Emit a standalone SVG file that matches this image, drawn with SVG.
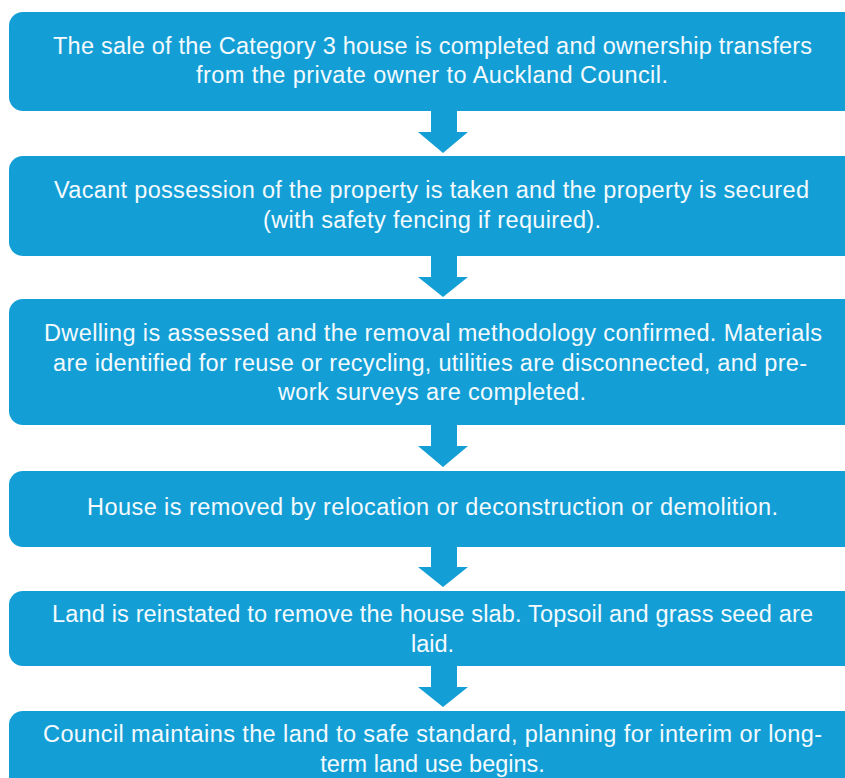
<svg xmlns="http://www.w3.org/2000/svg" width="845" height="778" viewBox="0 0 845 778">
<style>
.box{fill:#139FD6}
.t{font-family:"Liberation Sans",Arial,sans-serif;font-size:23.5px;fill:#F4FAFD;text-anchor:middle}
.arr{fill:#139FD6}
</style>
<rect width="845" height="778" fill="#ffffff"/>
<g id="connectors">
<polygon class="arr" points="431,110 457,110 457,132 468,132 443,153 418,132 431,132"/>
<polygon class="arr" points="431,255 457,255 457,277 468,277 443,297 418,277 431,277"/>
<polygon class="arr" points="431,424 457,424 457,446 468,446 443,467 418,446 431,446"/>
<polygon class="arr" points="431,546 457,546 457,567 468,567 443,587 418,567 431,567"/>
<polygon class="arr" points="431,665 457,665 457,687 468,687 443,707 418,687 431,687"/>
</g>
<g id="n1">
<rect class="box" x="9" y="12" width="850" height="99" rx="14"/>
<text class="t" x="432.5" y="54" textLength="759" lengthAdjust="spacing">The sale of the Category 3 house is completed and ownership transfers</text>
<text class="t" x="432" y="83" textLength="472" lengthAdjust="spacing">from the private owner to Auckland Council.</text>
</g>
<g id="n2">
<rect class="box" x="9" y="156" width="850" height="100" rx="14"/>
<text class="t" x="431.5" y="198" textLength="755" lengthAdjust="spacing">Vacant possession of the property is taken and the property is secured</text>
<text class="t" x="432" y="228" textLength="338" lengthAdjust="spacing">(with safety fencing if required).</text>
</g>
<g id="n3">
<rect class="box" x="9" y="299" width="850" height="126" rx="14"/>
<text class="t" x="433" y="341" textLength="778" lengthAdjust="spacing">Dwelling is assessed and the removal methodology confirmed. Materials</text>
<text class="t" x="430" y="371" textLength="754" lengthAdjust="spacing">are identified for reuse or recycling, utilities are disconnected, and pre-</text>
<text class="t" x="432" y="400" textLength="308" lengthAdjust="spacing">work surveys are completed.</text>
</g>
<g id="n4">
<rect class="box" x="9" y="471" width="850" height="76" rx="14"/>
<text class="t" x="432.5" y="515" textLength="691" lengthAdjust="spacing">House is removed by relocation or deconstruction or demolition.</text>
</g>
<g id="n5">
<rect class="box" x="9" y="591" width="850" height="75" rx="14"/>
<text class="t" x="432.5" y="622" textLength="761" lengthAdjust="spacing">Land is reinstated to remove the house slab. Topsoil and grass seed are</text>
<text class="t" x="432.5" y="652">laid.</text>
</g>
<g id="n6">
<rect class="box" x="9" y="711" width="850" height="90" rx="14"/>
<text class="t" x="432.5" y="742" textLength="779" lengthAdjust="spacing">Council maintains the land to safe standard, planning for interim or long-</text>
<text class="t" x="432.5" y="772">term land use begins.</text>
</g>
</svg>
